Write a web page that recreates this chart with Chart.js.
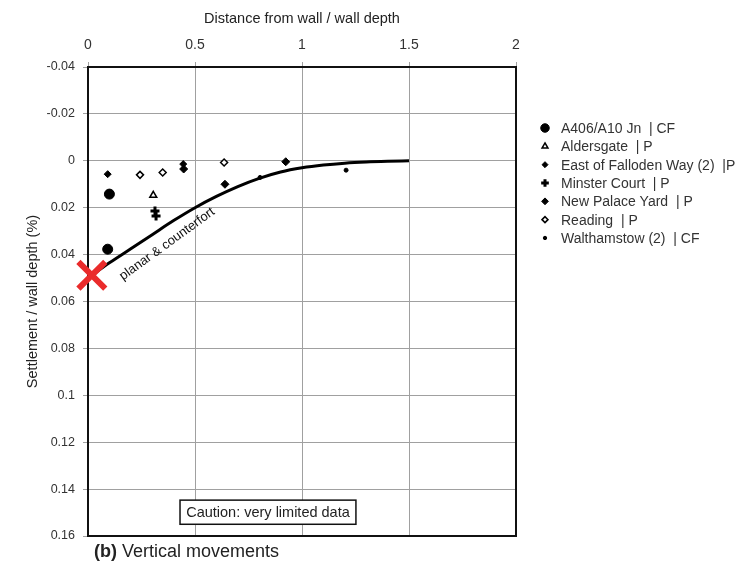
<!DOCTYPE html>
<html>
<head>
<meta charset="utf-8">
<script src="https://cdn.jsdelivr.net/npm/chart.js@4.4.0/dist/chart.umd.min.js"></script>
<style>
body { margin: 0; background: #fff; overflow: hidden; }
#wrap { position: relative; width: 742px; height: 565px; }
#caption { position: absolute; left: 94px; top: 541px; font: 18px "Liberation Sans", Arial, sans-serif; color: #222; }
</style>
</head>
<body>
<div id="wrap">
  <canvas id="myChart" width="742" height="565"></canvas>
  <div id="caption"><b>(b)</b> Vertical movements</div>
</div>
<script>
// tick values
var xTicks = [0, 0.5, 1, 1.5, 2]
var yMin = -0.04, yMax = 0.16, yStep = 0.02

// site names (legend order)
var sites = ["A406/A10 Jn  | CF", "Aldersgate  | P", "East of Falloden Way (2)  |P", "Minster Court  | P", "New Palace Yard  | P", "Reading  | P", "Walthamstow (2)  | CF"]

// measured points, x = distance / wall depth, y = settlement / wall depth (%)
var a406X = [0.10, 0.092]
var a406Y = [0.0142, 0.0377]
var aldersgateX = [0.305]
var aldersgateY = [0.0147]
var fallodenX = [0.092, 0.445]
var fallodenY = [0.0057, 0.0014]
var minsterX = [0.313, 0.318]
var minsterY = [0.0214, 0.0235]
var palaceX = [0.64, 0.447, 0.924]
var palaceY = [0.0100, 0.0035, 0.0004]
var readingX = [0.243, 0.349, 0.636]
var readingY = [0.0060, 0.0050, 0.0007]
var walthamstowX = [0.804, 1.206]
var walthamstowY = [0.0071, 0.0040]

// design curve "planar & counterfort"
var curveX = [0, 0.1, 0.2, 0.3, 0.4, 0.5, 0.6, 0.7, 0.8, 0.9, 1.0, 1.1, 1.2, 1.3, 1.4, 1.5]
var curveY = [0.050, 0.0435, 0.0375, 0.0315, 0.0255, 0.0200, 0.0152, 0.0110, 0.0075, 0.0048, 0.0030, 0.0018, 0.0010, 0.0005, 0.0002, 0]

// red cross marker
var crossX = [0.018]
var crossY = [0.0488]

function toPoints(xs, ys) {
    return xs.map(function (x, i) { return { x: x, y: ys[i] } })
}

var markerStyles = [
    { pointStyle: "circle", radius: 5, fill: "#000", border: 1 },
    { pointStyle: "triangle", radius: 4, fill: "#fff", border: 1.5 },
    { pointStyle: "rectRot", radius: 3.5, fill: "#000", border: 1 },
    { pointStyle: "cross", radius: 4.5, fill: "#000", border: 3 },
    { pointStyle: "rectRot", radius: 4, fill: "#000", border: 1 },
    { pointStyle: "rectRot", radius: 3.5, fill: "#fff", border: 1.5 },
    { pointStyle: "circle", radius: 2, fill: "#000", border: 1 }
]
var seriesX = [a406X, aldersgateX, fallodenX, minsterX, palaceX, readingX, walthamstowX]
var seriesY = [a406Y, aldersgateY, fallodenY, minsterY, palaceY, readingY, walthamstowY]

var datasets = [{
    label: "cross",
    data: toPoints(crossX, crossY),
    pointStyle: "crossRot",
    pointRadius: 19,
    pointBorderWidth: 6,
    borderColor: "#ea2b2b",
    backgroundColor: "#ea2b2b",
    clip: false,
    order: 0
}]
for (var i = 0; i < sites.length; i++) {
    var m = markerStyles[i]
    datasets.push({
        label: sites[i],
        data: toPoints(seriesX[i], seriesY[i]),
        pointStyle: m.pointStyle,
        pointRadius: m.radius,
        pointBorderWidth: m.border,
        borderColor: "#000",
        backgroundColor: m.fill,
        order: 1
    })
}
datasets.push({
    label: "curve",
    type: "line",
    data: toPoints(curveX, curveY),
    borderColor: "#000",
    borderWidth: 3,
    pointRadius: 0,
    cubicInterpolationMode: "monotone",
    fill: false,
    order: 2
})

var fontFamily = '"Liberation Sans", Arial, sans-serif'

var extras = {
    id: "extras",
    afterDatasetsDraw: function (chart) {
        var ctx = chart.ctx
        var xs = chart.scales.x, ys = chart.scales.y
        var area = chart.chartArea
        ctx.save()
        // right and bottom frame
        ctx.strokeStyle = "#111"
        ctx.lineWidth = 2
        ctx.beginPath()
        ctx.moveTo(area.right, area.top)
        ctx.lineTo(area.right, area.bottom)
        ctx.lineTo(area.left, area.bottom)
        ctx.stroke()

        // curve label
        ctx.translate(xs.getPixelForValue(0.37), ys.getPixelForValue(0.0355))
        ctx.rotate(-36 * Math.PI / 180)
        ctx.fillStyle = "#111"
        ctx.font = "13px " + fontFamily
        ctx.textAlign = "center"
        ctx.textBaseline = "middle"
        ctx.fillText("planar & counterfort", 0, 0)
        ctx.restore()

        // caution box
        ctx.save()
        var bx1 = xs.getPixelForValue(0.43), bx2 = xs.getPixelForValue(1.252)
        var by1 = ys.getPixelForValue(0.1447), by2 = ys.getPixelForValue(0.155)
        ctx.fillStyle = "#fff"
        ctx.fillRect(bx1, by1, bx2 - bx1, by2 - by1)
        ctx.strokeStyle = "#111"
        ctx.lineWidth = 1.5
        ctx.strokeRect(bx1, by1, bx2 - bx1, by2 - by1)
        ctx.fillStyle = "#222"
        ctx.font = "14.5px " + fontFamily
        ctx.textAlign = "center"
        ctx.textBaseline = "middle"
        ctx.fillText("Caution: very limited data", (bx1 + bx2) / 2, (by1 + by2) / 2 + 1)
        ctx.restore()

        // legend
        ctx.save()
        ctx.font = "14px " + fontFamily
        ctx.textBaseline = "middle"
        ctx.textAlign = "left"
        for (var i = 0; i < sites.length; i++) {
            var m = markerStyles[i]
            var ly = 128 + i * 18.33
            ctx.fillStyle = m.fill
            ctx.strokeStyle = "#000"
            ctx.lineWidth = m.border
            Chart.helpers.drawPoint(ctx, { pointStyle: m.pointStyle, radius: m.radius * 0.85, rotation: 0, borderWidth: m.border }, 545, ly)
            ctx.fillStyle = "#333"
            ctx.fillText(sites[i], 561, ly + 1)
        }
        ctx.restore()
    }
}

var ctx = document.getElementById("myChart").getContext("2d")
var myChart = new Chart(ctx, {
    type: "scatter",
    data: { datasets: datasets },
    plugins: [extras],
    options: {
        responsive: false,
        animation: false,
        layout: { padding: { left: 24, top: 10, right: 226, bottom: 29 } },
        plugins: { legend: { display: false }, tooltip: { enabled: false } },
        scales: {
            x: {
                position: "top",
                min: 0,
                max: 2,
                afterBuildTicks: function (scale) {
                    scale.ticks = xTicks.map(function (v) { return { value: v } })
                },
                afterFit: function (scale) { scale.height = 57 },
                ticks: {
                    color: "#333",
                    font: { size: 14, family: fontFamily },
                    padding: 8,
                    callback: function (v) { return String(v) }
                },
                grid: { color: "#a0a0a0", lineWidth: 1, tickLength: 5 },
                border: { display: true, color: "#111", width: 2 },
                title: {
                    display: true,
                    text: "Distance from wall / wall depth",
                    color: "#222",
                    font: { size: 14.5, family: fontFamily },
                    padding: { top: 0, bottom: 4 }
                }
            },
            y: {
                reverse: true,
                min: yMin,
                max: yMax,
                ticks: {
                    stepSize: yStep,
                    color: "#333",
                    font: { size: 12.5, family: fontFamily },
                    padding: 8,
                    callback: function (v) { return String(Number(v.toFixed(2))) }
                },
                afterFit: function (scale) { scale.width = 64 },
                grid: { color: "#a0a0a0", lineWidth: 1, tickLength: 5 },
                border: { display: true, color: "#111", width: 2 },
                title: {
                    display: true,
                    text: "Settlement / wall depth (%)",
                    color: "#222",
                    font: { size: 14.5, family: fontFamily },
                    padding: { top: 0, bottom: 0 }
                }
            }
        }
    }
})
</script>
</body>
</html>
